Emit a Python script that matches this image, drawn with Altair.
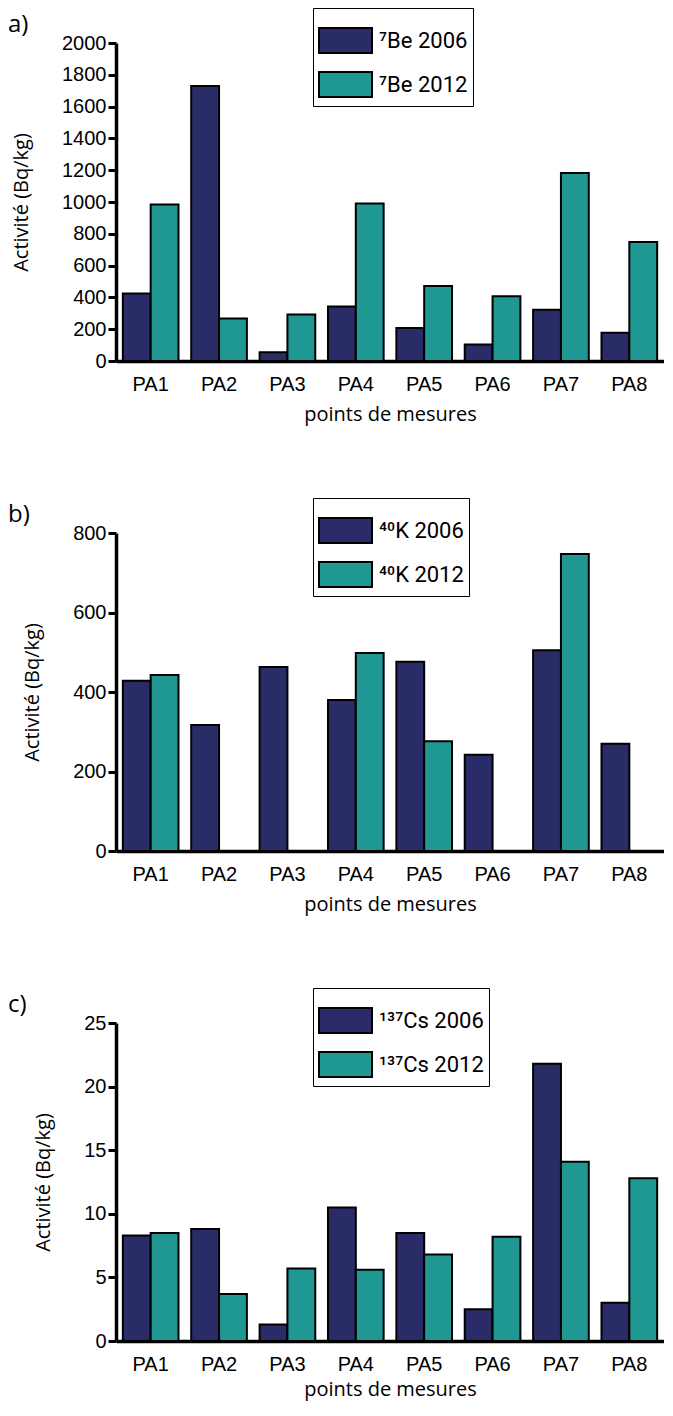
import altair as alt
import pandas as pd

sites = ["PA1", "PA2", "PA3", "PA4", "PA5", "PA6", "PA7", "PA8"]

be_2006 = [425, 1730, 55, 343, 207, 104, 323, 178]
be_2012 = [985, 267, 293, 990, 471, 407, 1182, 748]

k_2006 = [428, 317, 463, 380, 476, 242, 505, 270]
k_2012 = [443, None, None, 498, 276, None, 747, None]

cs_2006 = [8.3, 8.8, 1.3, 10.5, 8.5, 2.5, 21.8, 3.0]
cs_2012 = [8.5, 3.7, 5.7, 5.6, 6.8, 8.2, 14.1, 12.8]

panel_labels = ["a)", "b)", "c)"]

NAVY = "#292c66"
TEAL = "#1f9893"
RECT = "M-1,-0.47L1,-0.47L1,0.47L-1,0.47Z"


def panel(v2006, v2012, iso, ymax, step, label, xtitle_pad=10):
    names = [f"{iso} 2006", f"{iso} 2012"]
    rows = []
    for s, a, b in zip(sites, v2006, v2012):
        if a is not None:
            rows.append({"site": s, "serie": names[0], "val": a})
        if b is not None:
            rows.append({"site": s, "serie": names[1], "val": b})
    df = pd.DataFrame(rows)
    bars = (
        alt.Chart(df)
        .mark_bar(stroke="black", strokeWidth=2)
        .encode(
            x=alt.X(
                "site:N", sort=sites,
                scale=alt.Scale(paddingInner=0.186, paddingOuter=0.1),
                axis=alt.Axis(
                    title="points de mesures", labelAngle=0, ticks=False,
                    labelPadding=13, titlePadding=xtitle_pad,
                ),
            ),
            xOffset=alt.XOffset(
                "serie:N", sort=names,
                scale=alt.Scale(domain=names, paddingInner=0, paddingOuter=0),
            ),
            y=alt.Y(
                "val:Q",
                scale=alt.Scale(domain=[0, ymax], nice=False, zero=True),
                axis=alt.Axis(
                    values=list(range(0, ymax + 1, step)), format="d",
                    title="Activité (Bq/kg)", titlePadding=30, labelPadding=2,
                    tickSize=8, grid=False,
                ),
            ),
            color=alt.Color(
                "serie:N", sort=names,
                scale=alt.Scale(domain=names, range=[NAVY, TEAL]),
                legend=alt.Legend(
                    title=None, orient="none", legendX=197, legendY=-35,
                    symbolType=RECT, symbolSize=2809, symbolStrokeColor="black",
                    symbolStrokeWidth=2, symbolOpacity=1,
                    labelFont="Roboto", labelFontSize=22, labelColor="black",
                    labelOffset=6, rowPadding=-20, padding=5,
                    strokeColor="black", fillColor="white",
                ),
            ),
        )
    )
    tag = (
        alt.Chart(pd.DataFrame({"t": [label]}))
        .mark_text(font="Open Sans", fontSize=24, align="left", baseline="middle", color="black")
        .encode(text="t:N", x=alt.value(-108), y=alt.value(-18))
    )
    return alt.layer(bars, tag).properties(width=548, height=318)


a = panel(be_2006, be_2012, "⁷Be", 2000, 200, panel_labels[0])
b = panel(k_2006, k_2012, "⁴⁰K", 800, 200, panel_labels[1])
c = panel(cs_2006, cs_2012, "¹³⁷Cs", 25, 5, panel_labels[2], xtitle_pad=5)

chart = (
    alt.vconcat(a, b, c, spacing=73)
    .resolve_scale(color="independent", xOffset="independent", y="independent")
    .resolve_legend(color="independent")
    .properties(padding={"left": 0, "top": -1, "right": 0, "bottom": 2})
    .configure_view(stroke=None)
    .configure_axis(
        domainColor="black", domainWidth=3.5, tickColor="black", tickWidth=3,
        labelColor="black", labelFont="Liberation Sans", labelFontSize=20,
        titleColor="black", titleFont="Open Sans", titleFontSize=20,
        titleFontWeight="normal",
    )
)

chart.save("out.html", embed_options={"renderer": "svg", "actions": False})
